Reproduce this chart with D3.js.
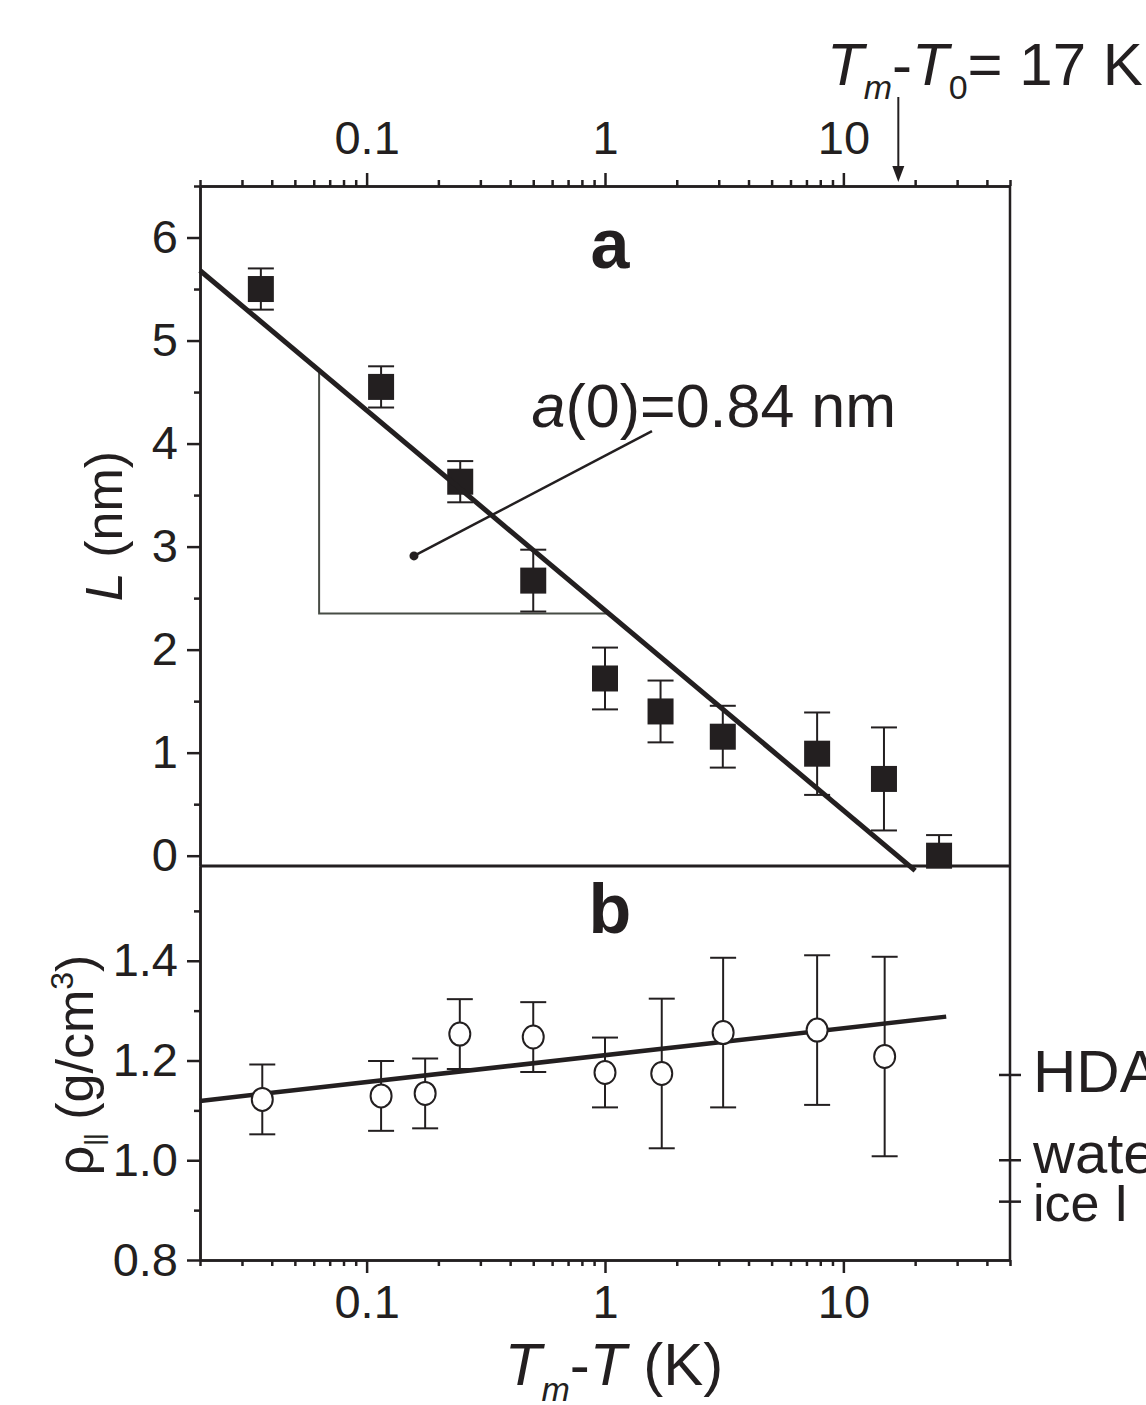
<!DOCTYPE html>
<html><head><meta charset="utf-8">
<script src="https://cdn.jsdelivr.net/npm/d3@7"></script>
<style>body{margin:0;background:#fff}</style>
</head><body>
<svg id="c" width="1146" height="1405"></svg>
<script>
// ---------- data ----------
const xDomain = [0.02, 50];
const xMajorTicks = [0.1, 1, 10];
const yTopTicks = [0, 1, 2, 3, 4, 5, 6];
const yTopMinor = [0.5, 1.5, 2.5, 3.5, 4.5, 5.5, 6.5];
const yBotTicks = [0.8, 1.0, 1.2, 1.4];
const yBotMinor = [0.9, 1.1, 1.3, 1.5];

// panel a: L (nm)
const sqX   = [0.036, 0.115, 0.247, 0.5, 1.0, 1.71, 3.12, 7.76, 14.8, 25.2];
const sqL   = [5.50, 4.55, 3.63, 2.67, 1.72, 1.40, 1.155, 0.99, 0.745, 0.0];
const sqErr = [0.2, 0.2, 0.2, 0.3, 0.3, 0.3, 0.3, 0.4, 0.5, 0.2];
const fitAX = [0.02, 20];
const fitAL = [5.68, -0.145];
const triX = [0.0632, 0.0632, 1.03];
const triL = [4.70, 2.35, 2.35];
const ptrX = [0.158, 1.574];
const ptrL = [2.91, 4.12];

// panel b: density
const ciX   = [0.0365, 0.115, 0.176, 0.246, 0.5, 1.0, 1.73, 3.13, 7.76, 14.9];
const ciRho = [1.122, 1.129, 1.134, 1.253, 1.247, 1.176, 1.174, 1.256, 1.261, 1.208];
const ciErr = [0.07, 0.07, 0.07, 0.07, 0.07, 0.07, 0.15, 0.15, 0.15, 0.2];
const fitBX = [0.02, 27];
const fitBRho = [1.119, 1.288];
const refNames = ["HDA", "water", "ice I"];
const refRho = [1.171, 1.0, 0.917];
const T0 = 17;

// ---------- drawing ----------
const FONT = "'Liberation Sans', Arial, Helvetica, sans-serif";
const INK = "#231f20";
const svg = d3.select("#c").attr("font-family", FONT);

const x = d3.scaleLog().domain(xDomain).range([200, 1010]);
const yTop = d3.scaleLinear().domain([-0.1, 6.5]).range([866, 186]);
const yBot = d3.scaleLinear().domain([0.8, 1.59]).range([1260, 866]);

const xMinor = [];
[0.01, 0.1, 1, 10].forEach(d => { for (let k = 2; k <= 9; k++) { const v = +(k * d).toPrecision(3); if (v >= xDomain[0] && v <= xDomain[1]) xMinor.push(v); } });

function styleAxis(g, w) {
  g.select(".domain").attr("stroke", INK).attr("stroke-width", w);
  g.selectAll(".tick line").attr("stroke", INK).attr("stroke-width", w);
  g.selectAll("text").attr("fill", INK).attr("font-family", FONT).attr("font-size", 47);
}

// top x axis
svg.append("g").attr("transform", "translate(0,186)")
  .call(d3.axisTop(x).tickValues(xMinor).tickSize(6).tickSizeOuter(0).tickFormat(""))
  .call(g => styleAxis(g, 2.5));
svg.append("g").attr("transform", "translate(0,186)")
  .call(d3.axisTop(x).tickValues(xMajorTicks).tickSize(13).tickSizeOuter(0).tickPadding(19).tickFormat(d => d))
  .call(g => styleAxis(g, 2.5));

// bottom x axis
svg.append("g").attr("transform", "translate(0,1260)")
  .call(d3.axisBottom(x).tickValues(xMinor).tickSize(6).tickSizeOuter(0).tickFormat(""))
  .call(g => styleAxis(g, 2.5));
svg.append("g").attr("transform", "translate(0,1260)")
  .call(d3.axisBottom(x).tickValues(xMajorTicks).tickSize(13).tickSizeOuter(0).tickPadding(12).tickFormat(d => d))
  .call(g => styleAxis(g, 2.5));

// left axes
svg.append("g").attr("transform", "translate(200,0)")
  .call(d3.axisLeft(yTop).tickValues(yTopMinor).tickSize(6).tickSizeOuter(0).tickFormat(""))
  .call(g => styleAxis(g, 2.5));
svg.append("g").attr("transform", "translate(200,0)")
  .call(d3.axisLeft(yTop).tickValues(yTopTicks).tickSize(13).tickSizeOuter(0).tickPadding(9).tickFormat(d3.format("d")))
  .call(g => styleAxis(g, 2.5));
svg.append("g").attr("transform", "translate(200,0)")
  .call(d3.axisLeft(yBot).tickValues(yBotMinor).tickSize(6).tickSizeOuter(0).tickFormat(""))
  .call(g => styleAxis(g, 2.5));
svg.append("g").attr("transform", "translate(200,0)")
  .call(d3.axisLeft(yBot).tickValues(yBotTicks).tickSize(13).tickSizeOuter(0).tickPadding(9).tickFormat(d3.format(".1f")))
  .call(g => styleAxis(g, 2.5));

// frame lines: right border and shared middle line
svg.append("line").attr("x1", x(xDomain[1])).attr("x2", x(xDomain[1])).attr("y1", 186).attr("y2", 1260)
  .attr("stroke", INK).attr("stroke-width", 2.5);
svg.append("line").attr("x1", 200).attr("x2", x(xDomain[1])).attr("y1", yTop(-0.1)).attr("y2", yTop(-0.1))
  .attr("stroke", INK).attr("stroke-width", 3);

// right reference ticks and labels (panel b)
const refSizes = [60, 58, 52];
const refBase = [1092, 1173, 1221];
refRho.forEach((r, i) => {
  svg.append("line").attr("x1", 999).attr("x2", 1021).attr("y1", yBot(r)).attr("y2", yBot(r))
    .attr("stroke", INK).attr("stroke-width", 2.5);
  svg.append("text").attr("x", 1033).attr("y", refBase[i]).attr("font-size", refSizes[i])
    .attr("fill", INK).text(refNames[i]);
});

// ---------- panel a ----------
svg.append("clipPath").attr("id", "clipA").append("rect")
  .attr("x", 150).attr("y", 150).attr("width", 900).attr("height", 718);

// slope triangle
svg.append("path")
  .attr("d", d3.line().x((d, i) => x(triX[i])).y((d, i) => yTop(triL[i]))(triX))
  .attr("fill", "none").attr("stroke", "#474c45").attr("stroke-width", 2);

// error bars
const ebA = svg.append("g").attr("clip-path", "url(#clipA)").attr("stroke", INK).attr("stroke-width", 2);
sqX.forEach((v, i) => {
  const cx = x(v), y1 = yTop(sqL[i] + sqErr[i]), y2 = yTop(sqL[i] - sqErr[i]);
  ebA.append("line").attr("x1", cx).attr("x2", cx).attr("y1", y1).attr("y2", y2);
  ebA.append("line").attr("x1", cx - 13).attr("x2", cx + 13).attr("y1", y1).attr("y2", y1);
  ebA.append("line").attr("x1", cx - 13).attr("x2", cx + 13).attr("y1", y2).attr("y2", y2);
});
// squares
svg.append("g").selectAll("rect").data(sqX).join("rect")
  .attr("x", d => x(d) - 13).attr("y", (d, i) => yTop(sqL[i]) - 13)
  .attr("width", 26).attr("height", 26).attr("fill", INK);

// fit line a
svg.append("path")
  .attr("d", d3.line().x((d, i) => x(fitAX[i])).y((d, i) => yTop(fitAL[i]))(fitAX))
  .attr("stroke", INK).attr("stroke-width", 5).attr("fill", "none");

// pointer
svg.append("line").attr("x1", x(ptrX[0])).attr("y1", yTop(ptrL[0])).attr("x2", x(ptrX[1])).attr("y2", yTop(ptrL[1]))
  .attr("stroke", INK).attr("stroke-width", 2.5);
svg.append("circle").attr("cx", x(ptrX[0])).attr("cy", yTop(ptrL[0])).attr("r", 4.5).attr("fill", INK);

const aTxt = svg.append("text").attr("x", x(0.492)).attr("y", yTop(4.16)).attr("font-size", 61).attr("fill", INK);
aTxt.append("tspan").attr("font-style", "italic").text("a");
aTxt.append("tspan").text("(0)=0.84 nm");

svg.append("text").attr("x", 610).attr("y", 268).attr("text-anchor", "middle")
  .attr("font-size", 70).attr("font-weight", "bold").attr("fill", INK).text("a");

// ---------- panel b ----------
const ebB = svg.append("g").attr("stroke", INK).attr("stroke-width", 2);
ciX.forEach((v, i) => {
  const cx = x(v), y1 = yBot(ciRho[i] + ciErr[i]), y2 = yBot(ciRho[i] - ciErr[i]);
  ebB.append("line").attr("x1", cx).attr("x2", cx).attr("y1", y1).attr("y2", y2);
  ebB.append("line").attr("x1", cx - 13).attr("x2", cx + 13).attr("y1", y1).attr("y2", y1);
  ebB.append("line").attr("x1", cx - 13).attr("x2", cx + 13).attr("y1", y2).attr("y2", y2);
});
svg.append("path")
  .attr("d", d3.line().x((d, i) => x(fitBX[i])).y((d, i) => yBot(fitBRho[i]))(fitBX))
  .attr("stroke", INK).attr("stroke-width", 4.5).attr("fill", "none");
svg.append("g").selectAll("ellipse").data(ciX).join("ellipse")
  .attr("cx", d => x(d)).attr("cy", (d, i) => yBot(ciRho[i]))
  .attr("rx", 10.5).attr("ry", 11.5)
  .attr("fill", "#fff").attr("stroke", INK).attr("stroke-width", 2);

svg.append("text").attr("x", 610).attr("y", 933).attr("text-anchor", "middle")
  .attr("font-size", 70).attr("font-weight", "bold").attr("fill", INK).text("b");

// ---------- axis titles ----------
const yl1 = svg.append("text").attr("transform", "translate(122,526) rotate(-90)")
  .attr("text-anchor", "middle").attr("font-size", 52).attr("fill", INK);
yl1.append("tspan").attr("font-style", "italic").text("L");
yl1.append("tspan").text(" (nm)");

const yl2 = svg.append("text").attr("transform", "translate(93,1065) rotate(-90)")
  .attr("text-anchor", "middle").attr("font-size", 52).attr("fill", INK);
yl2.append("tspan").text("ρ");
yl2.append("tspan").attr("font-size", 26).attr("dy", 10).attr("letter-spacing", -1).text("||");
yl2.append("tspan").attr("dy", -10).text(" (g/cm");
yl2.append("tspan").attr("font-size", 32).attr("dy", -20).text("3");
yl2.append("tspan").attr("dy", 20).text(")");

const xl = svg.append("text").attr("x", 614).attr("y", 1385).attr("text-anchor", "middle")
  .attr("font-size", 60).attr("fill", INK);
xl.append("tspan").attr("font-style", "italic").text("T");
xl.append("tspan").attr("font-style", "italic").attr("font-size", 34).attr("dy", 16).text("m");
xl.append("tspan").attr("dy", -16).text("-");
xl.append("tspan").attr("font-style", "italic").text("T");
xl.append("tspan").text(" (K)");

// top-right annotation with arrow at T0
const tt = svg.append("text").attr("x", 827).attr("y", 85).attr("font-size", 60).attr("fill", INK);
tt.append("tspan").attr("font-style", "italic").text("T");
tt.append("tspan").attr("font-style", "italic").attr("font-size", 34).attr("dy", 14).text("m");
tt.append("tspan").attr("dy", -14).text("-");
tt.append("tspan").attr("font-style", "italic").text("T");
tt.append("tspan").attr("font-size", 34).attr("dy", 14).text("0");
tt.append("tspan").attr("dy", -14).text("= 17 K");

const ax = x(T0);
svg.append("line").attr("x1", ax).attr("x2", ax).attr("y1", 97).attr("y2", 170)
  .attr("stroke", INK).attr("stroke-width", 2);
svg.append("path").attr("d", `M${ax - 6},166 L${ax + 6},166 L${ax},182 Z`).attr("fill", INK);
</script></body></html>
